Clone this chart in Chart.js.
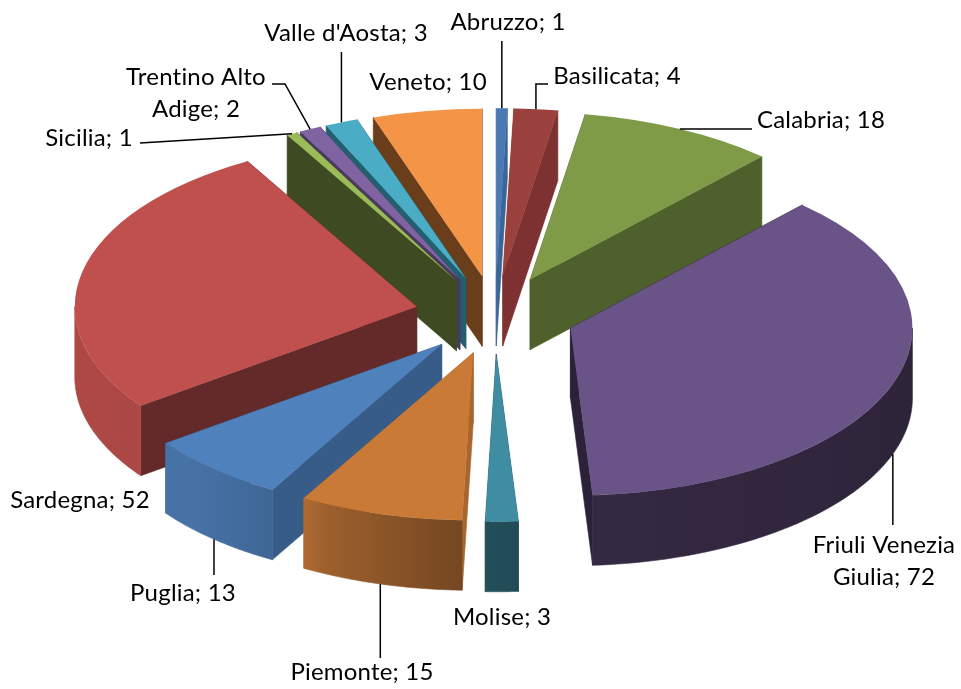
<!DOCTYPE html>
<html lang="it">
<head>
<meta charset="UTF-8">
<title>Torta 3D per regione</title>
<script src="https://cdn.jsdelivr.net/npm/chart.js"></script>
<style>
  html, body { margin: 0; padding: 0; background: #fff; }
  #wrap { position: relative; width: 961px; height: 689px; }
</style>
</head>
<body>
<div id="wrap"><canvas id="torta"></canvas></div>
<script>
// dati
const regioni = ['Abruzzo', 'Basilicata', 'Calabria', 'Friuli Venezia Giulia', 'Molise', 'Piemonte',
                 'Puglia', 'Sardegna', 'Sicilia', 'Trentino Alto Adige', "Valle d'Aosta", 'Veneto'];
const valori = [1, 4, 18, 72, 3, 15, 13, 52, 1, 2, 3, 10];

// colori: faccia superiore, colore base delle pareti, faccia di taglio
const coloriTop = ['#4A7AB5', '#9A403D', '#7F9B48', '#6A5387', '#3E8DA2', '#C97A36',
                   '#4F81BD', '#C0504D', '#9BBB59', '#8064A2', '#4BACC6', '#F39447'];
const coloriBase = ['#4F81BD', '#C0504D', '#9BBB59', '#8064A2', '#4BACC6', '#F79646',
                    '#4F81BD', '#C0504D', '#9BBB59', '#8064A2', '#4BACC6', '#F79646'];
const coloriTaglio = ['#3B6597', '#7D3231', '#4E612C', '#2B2139', '#21505D', '#A8652C',
                      '#385C88', '#632A29', '#3E4B22', '#4A3A60', '#22606F', '#6A3D1B'];

// parametri 3D
const INCLINA = 0.49;   // schiacciamento verticale
const SPESSORE = 70;    // altezza delle pareti
const ESPLOSO = 80;     // distacco delle fette

// etichette: centro del testo, a capo, punti della linea guida (null = stessa x dell'inizio)
const etichette = [
  { x: 508, y: 22, linea: [[null, 41]] },
  { x: 617, y: 76, linea: [[null, 84], [548, 84]] },
  { x: 821, y: 120, linea: [[752, null]] },
  { x: 884, y: 545, aCapo: 160, linea: [[null, 525]] },
  { x: 502, y: 617 },
  { x: 362, y: 672, linea: [[null, 658]] },
  { x: 183, y: 593, linea: [[null, 575]] },
  { x: 80, y: 500 },
  { x: 89, y: 138, linea: [[140, 143]] },
  { x: 196, y: 77, aCapo: 160, linea: [[285, 84], [272, 84]] },
  { x: 346, y: 33, linea: [[null, 52]] },
  { x: 428, y: 82 }
];

function scurisci(hex, f) {
  const n = parseInt(hex.slice(1), 16);
  const r = Math.round(((n >> 16) & 255) * f);
  const g = Math.round(((n >> 8) & 255) * f);
  const b = Math.round((n & 255) * f);
  return 'rgb(' + r + ',' + g + ',' + b + ')';
}

function meta(p) { return (p.startAngle + p.endAngle) / 2; }

// punto a raggio r, angolo a, della fetta p, abbassato di z
function punto(p, a, r, z) {
  const m = meta(p);
  return [p.x + r * Math.cos(a) + ESPLOSO * Math.cos(m),
          p.y + INCLINA * (r * Math.sin(a) + ESPLOSO * Math.sin(m)) + z];
}

function poligono(ctx, pts, colore) {
  ctx.beginPath();
  ctx.moveTo(pts[0][0], pts[0][1]);
  for (let k = 1; k < pts.length; k++) ctx.lineTo(pts[k][0], pts[k][1]);
  ctx.closePath();
  ctx.fillStyle = colore;
  ctx.fill();
  ctx.strokeStyle = colore;
  ctx.lineWidth = 0.6;
  ctx.stroke();
}

function disegnaFetta(ctx, arc, i) {
  const p = arc.getProps(['x', 'y', 'startAngle', 'endAngle', 'outerRadius'], true);
  const R = p.outerRadius;

  // facce di taglio, prima quelle nascoste
  const tagli = [
    { a: p.startAngle, vis: Math.cos(p.startAngle) < 0 },
    { a: p.endAngle, vis: Math.cos(p.endAngle) > 0 }
  ].sort((u, v) => u.vis - v.vis);
  tagli.forEach(t => {
    poligono(ctx, [punto(p, t.a, 0, 0), punto(p, t.a, R, 0), punto(p, t.a, R, SPESSORE), punto(p, t.a, 0, SPESSORE)],
             coloriTaglio[i]);
  });

  // parete esterna visibile (meta' anteriore)
  const lo = Math.max(p.startAngle, 0), hi = Math.min(p.endAngle, Math.PI);
  if (hi > lo) {
    const pts = [];
    const n = 48;
    for (let k = 0; k <= n; k++) pts.push(punto(p, lo + (hi - lo) * k / n, R, 0));
    for (let k = n; k >= 0; k--) pts.push(punto(p, lo + (hi - lo) * k / n, R, SPESSORE));
    const grad = ctx.createLinearGradient(70, 0, 920, 0);
    [[0, 0.9], [0.15, 0.88], [0.25, 0.78], [0.3, 0.64], [0.45, 0.48], [0.55, 0.42], [1, 0.36]]
      .forEach(s => grad.addColorStop(s[0], scurisci(coloriBase[i], s[1])));
    poligono(ctx, pts, grad);
  }

  // faccia superiore disegnata da Chart.js
  const m = meta(p);
  ctx.save();
  ctx.translate(p.x, p.y);
  ctx.scale(1, INCLINA);
  ctx.translate(-p.x, -p.y);
  ctx.translate(ESPLOSO * Math.cos(m), ESPLOSO * Math.sin(m));
  arc.draw(ctx);
  ctx.restore();
}

const torta3d = {
  id: 'torta3d',
  beforeDatasetsDraw(chart) {
    const ctx = chart.ctx;
    const arcs = chart.getDatasetMeta(0).data;
    const ordine = arcs.map((a, i) => i)
      .sort((i, j) => Math.sin(meta(arcs[i])) - Math.sin(meta(arcs[j])));
    ordine.forEach(i => disegnaFetta(ctx, arcs[i], i));
    return false;
  },
  afterDraw(chart) {
    const ctx = chart.ctx;
    const arcs = chart.getDatasetMeta(0).data;
    ctx.save();
    ctx.font = '24px Lato';
    ctx.letterSpacing = '0.2px';
    ctx.fillStyle = '#000';
    ctx.strokeStyle = '#000';
    ctx.lineWidth = 1.5;
    ctx.textAlign = 'center';
    ctx.textBaseline = 'middle';
    arcs.forEach((arc, i) => {
      const e = etichette[i];
      const p = arc.getProps(['x', 'y', 'startAngle', 'endAngle', 'outerRadius'], true);
      const m = meta(p);
      if (e.linea) {
        // inizio della linea: bordo esterno della fetta (in basso se anteriore)
        const z = Math.sin(m) > 0 ? SPESSORE : 0;
        const s = punto(p, m, p.outerRadius, z);
        ctx.beginPath();
        ctx.moveTo(s[0], s[1]);
        let prev = s;
        e.linea.forEach(q => {
          const nx = q[0] === null ? s[0] : q[0];
          const ny = q[1] === null ? prev[1] : q[1];
          ctx.lineTo(nx, ny);
          prev = [nx, ny];
        });
        ctx.stroke();
      }
      const testo = regioni[i] + '; ' + valori[i];
      let righe = [testo];
      if (e.aCapo) {
        righe = [];
        let cur = '';
        testo.split(' ').forEach(w => {
          const prova = cur ? cur + ' ' + w : w;
          if (cur && ctx.measureText(prova).width > e.aCapo) { righe.push(cur); cur = w; }
          else cur = prova;
        });
        righe.push(cur);
      }
      righe.forEach((r, k) => ctx.fillText(r, e.x, e.y + k * 32));
    });
    ctx.restore();
  }
};

new Chart(document.getElementById('torta'), {
  type: 'pie',
  data: {
    labels: regioni,
    datasets: [{
      data: valori,
      backgroundColor: coloriTop,
      borderWidth: 0,
      offset: 0,
      clip: false
    }]
  },
  options: {
    responsive: true,
    maintainAspectRatio: false,
    animation: false,
    radius: 342,
    layout: { padding: { left: 29, top: 0, right: 0, bottom: 59 } },
    plugins: { legend: { display: false }, tooltip: { enabled: false } }
  },
  plugins: [torta3d]
});
</script>
</body>
</html>
